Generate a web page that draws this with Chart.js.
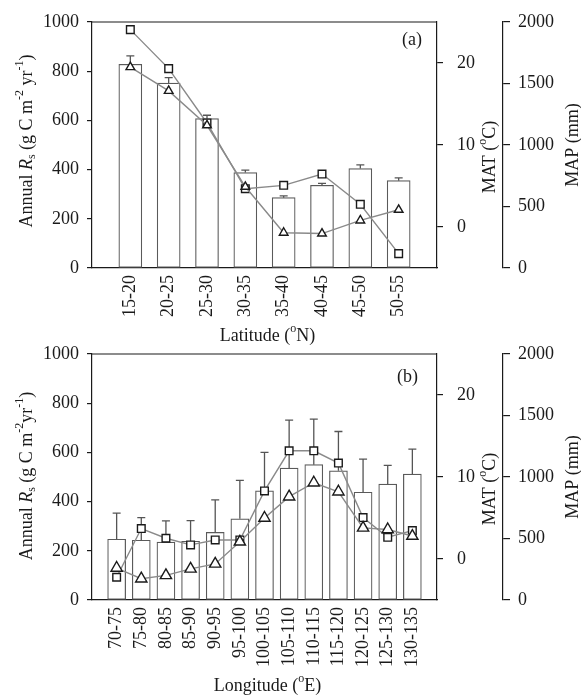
<!DOCTYPE html>
<html>
<head>
<meta charset="utf-8">
<script src="https://cdn.jsdelivr.net/npm/chart.js@4.4.0/dist/chart.umd.min.js"></script>
<style>
  html, body { margin: 0; padding: 0; background: #fff; }
  .page { position: relative; width: 581px; height: 695px; }
  .panel { position: absolute; left: 0; width: 581px; }
  canvas { display: block; }
</style>
</head>
<body>
<div class="page">
  <div class="panel" style="top:0;height:352px"><canvas id="chartLat"></canvas></div>
  <div class="panel" style="top:340px;height:355px"><canvas id="chartLon"></canvas></div>
</div>
<script>
// latitude bands (panel a)
const latBands = ['15-20', '20-25', '25-30', '30-35', '35-40', '40-45', '45-50', '50-55'];
const latRs = [828, 752, 607, 388, 286, 336, 404, 355];
const latRsErr = [34, 22, 14, 10, 7, 8, 15, 11];
const latMAT = [19.5, 16.6, 12.4, 4.9, -0.7, -0.8, 0.8, 2.1];
const latMAP = [1938, 1621, 1179, 645, 672, 764, 518, 117];

// longitude bands (panel b)
const lonBands = ['70-75', '75-80', '80-85', '85-90', '90-95', '95-100', '100-105',
  '105-110', '110-115', '115-120', '120-125', '125-130', '130-135'];
const lonRs = [247, 243, 235, 239, 275, 330, 444, 536, 550, 525, 438, 471, 512];
const lonRsErr = [106, 92, 87, 84, 132, 156, 156, 195, 185, 160, 135, 76, 101];
const lonMAT = [-1.1, -2.4, -2.0, -1.2, -0.6, 2.1, 5.0, 7.6, 9.3, 8.2, 3.8, 3.6, 2.8];
const lonMAP = [185, 581, 502, 448, 488, 488, 887, 1213, 1213, 1113, 670, 510, 564];

const rsTicks = [0, 200, 400, 600, 800, 1000];
const matTicks = [0, 10, 20];
const mapTicks = [0, 500, 1000, 1500, 2000];

const INK = '#1a1a1a';
const FAMILY = '"Liberation Serif", "Times New Roman", serif';
const tickFont = { family: FAMILY, size: 18 };

// blank slot on each end so the bars sit one step in from the frame
const pad = arr => [null, ...arr, null];

function drawRich(ctx, parts, x, y, rotated) {
  const fontOf = p => `${p.it ? 'italic ' : ''}${p.sub || p.sup ? 12 : 18}px ${FAMILY}`;
  ctx.save();
  ctx.translate(x, y);
  if (rotated) ctx.rotate(-Math.PI / 2);
  ctx.fillStyle = INK;
  ctx.textBaseline = 'middle';
  ctx.textAlign = 'left';
  let total = 0;
  parts.forEach(p => { ctx.font = fontOf(p); total += ctx.measureText(p.t).width; });
  let cx = -total / 2;
  parts.forEach(p => {
    ctx.font = fontOf(p);
    const dy = p.sub ? 5 : p.sup ? -7 : 0;
    ctx.fillText(p.t, cx, dy);
    cx += ctx.measureText(p.t).width;
  });
  ctx.restore();
}

function buildPanel(id, p) {
  const errUpper = pad(p.rs.map((v, i) => v + p.err[i]));

  const errorBars = {
    id: 'errorBars',
    afterDatasetDraw(chart, args) {
      if (args.meta.type !== 'bar') return;
      const ctx = chart.ctx;
      const yScale = chart.scales.yRs;
      ctx.save();
      ctx.strokeStyle = '#555';
      ctx.lineWidth = 1.3;
      args.meta.data.forEach((bar, i) => {
        if (errUpper[i] == null) return;
        const yTop = yScale.getPixelForValue(errUpper[i]);
        ctx.beginPath();
        ctx.moveTo(bar.x, bar.y);
        ctx.lineTo(bar.x, yTop);
        ctx.moveTo(bar.x - 4, yTop);
        ctx.lineTo(bar.x + 4, yTop);
        ctx.stroke();
      });
      ctx.restore();
    }
  };

  const titles = {
    id: 'titles',
    afterDraw(chart) {
      const ctx = chart.ctx;
      const a = chart.chartArea;
      const midY = (a.top + a.bottom) / 2;
      // top edge of the frame
      ctx.save();
      ctx.strokeStyle = INK;
      ctx.lineWidth = 1.2;
      ctx.beginPath();
      ctx.moveTo(a.left, a.top);
      ctx.lineTo(a.right, a.top);
      ctx.stroke();
      ctx.restore();

      drawRich(ctx, p.yTitle, 27, midY + p.yTitleShift, true);
      drawRich(ctx, [{ t: 'MAT (' }, { t: 'o', sup: true }, { t: 'C)' }], 490, midY + 12, true);
      drawRich(ctx, [{ t: 'MAP (mm)' }], 573, midY, true);
      drawRich(ctx, p.xTitle, (a.left + a.right) / 2 + 3, p.xTitleY, false);

      ctx.save();
      ctx.fillStyle = INK;
      ctx.font = `18px ${FAMILY}`;
      ctx.textAlign = 'right';
      ctx.textBaseline = 'middle';
      ctx.fillText(p.tag, a.right - p.tagRight, a.top + p.tagDown);
      ctx.restore();
    }
  };

  const fixedTicks = vals => scale => { scale.ticks = vals.map(v => ({ value: v })); };
  const plain = v => String(v);
  // fixed axis widths; drop the label overhang so the plot top/bottom stay put
  const fitY = w => s => { s.width = w; s.paddingTop = 0; s.paddingBottom = 0; };

  return new Chart(document.getElementById(id), {
    type: 'bar',
    data: {
      labels: ['', ...p.bands, ''],
      datasets: [
        {
          type: 'line', label: 'MAT', data: pad(p.mat), yAxisID: 'yMat', order: 0,
          borderColor: '#8a8a8a', borderWidth: 1.4,
          pointStyle: 'triangle', pointRadius: p.triR,
          pointBackgroundColor: '#fff', pointBorderColor: INK, pointBorderWidth: 1.4
        },
        {
          type: 'line', label: 'MAP', data: pad(p.map), yAxisID: 'yMap', order: 1,
          borderColor: '#8a8a8a', borderWidth: 1.4,
          pointStyle: 'rect', pointRadius: p.sqR,
          pointBackgroundColor: '#fff', pointBorderColor: INK, pointBorderWidth: 1.4
        },
        {
          type: 'bar', label: 'Rs', data: pad(p.rs), yAxisID: 'yRs', order: 2,
          backgroundColor: '#fff', borderColor: '#5a5a5a', borderWidth: 1.2,
          borderSkipped: false, barThickness: p.barW
        }
      ]
    },
    options: {
      responsive: true,
      maintainAspectRatio: false,
      animation: false,
      layout: { padding: { top: p.top, left: 0, right: 0, bottom: 0 } },
      plugins: { legend: { display: false }, tooltip: { enabled: false } },
      scales: {
        x: {
          type: 'category', offset: false,
          grid: { display: false, drawTicks: false, offset: false },
          border: { color: INK, width: 1.2 },
          ticks: { autoSkip: false, minRotation: 90, maxRotation: 90, padding: 7, color: INK, font: tickFont },
          afterFit: s => { s.height = p.xH; s.paddingLeft = 0; s.paddingRight = 0; }
        },
        yRs: {
          position: 'left', min: 0, max: 1000,
          afterBuildTicks: fixedTicks(rsTicks),
          ticks: { padding: 8, color: INK, font: tickFont, callback: plain },
          grid: { drawOnChartArea: false, tickLength: 5, color: INK, lineWidth: 1.2 },
          border: { color: INK, width: 1.2 },
          afterFit: fitY(92)
        },
        yMat: {
          position: 'right', weight: 0, min: -5, max: 25,
          afterBuildTicks: fixedTicks(matTicks),
          ticks: { padding: 14, color: INK, font: tickFont, callback: plain },
          grid: { drawOnChartArea: false, tickLength: 6, color: INK, lineWidth: 1.2 },
          border: { color: INK, width: 1.2 },
          afterFit: fitY(66)
        },
        yMap: {
          position: 'right', weight: 1, min: 0, max: 2000,
          afterBuildTicks: fixedTicks(mapTicks),
          ticks: { padding: 8, color: INK, font: tickFont, callback: plain },
          grid: { drawOnChartArea: false, tickLength: 7, color: INK, lineWidth: 1.2 },
          border: { color: INK, width: 1.2 },
          afterFit: fitY(78)
        }
      }
    },
    plugins: [errorBars, titles]
  });
}

buildPanel('chartLat', {
  bands: latBands, rs: latRs, err: latRsErr, mat: latMAT, map: latMAP,
  top: 22, xH: 84, barW: 23, triR: 5, sqR: 5.4,
  tag: '(a)', tagRight: 15, tagDown: 18,
  xTitleY: 336,
  xTitle: [{ t: 'Latitude (' }, { t: 'o', sup: true }, { t: 'N)' }],
  yTitleShift: -4,
  yTitle: [{ t: 'Annual ' }, { t: 'R', it: true }, { t: 's', sub: true }, { t: ' (g C m' },
    { t: '-2', sup: true }, { t: ' yr' }, { t: '-1', sup: true }, { t: ')' }]
});

buildPanel('chartLon', {
  bands: lonBands, rs: lonRs, err: lonRsErr, mat: lonMAT, map: lonMAP,
  top: 14, xH: 95, barW: 18, triR: 6.5, sqR: 5.4,
  tag: '(b)', tagRight: 19, tagDown: 23,
  xTitleY: 346,
  xTitle: [{ t: 'Longitude (' }, { t: 'o', sup: true }, { t: 'E)' }],
  yTitleShift: -1,
  yTitle: [{ t: 'Annual ' }, { t: 'R', it: true }, { t: 's', sub: true }, { t: ' (g C m' },
    { t: '-2', sup: true }, { t: 'yr' }, { t: '-1', sup: true }, { t: ')' }]
});
</script>
</body>
</html>
